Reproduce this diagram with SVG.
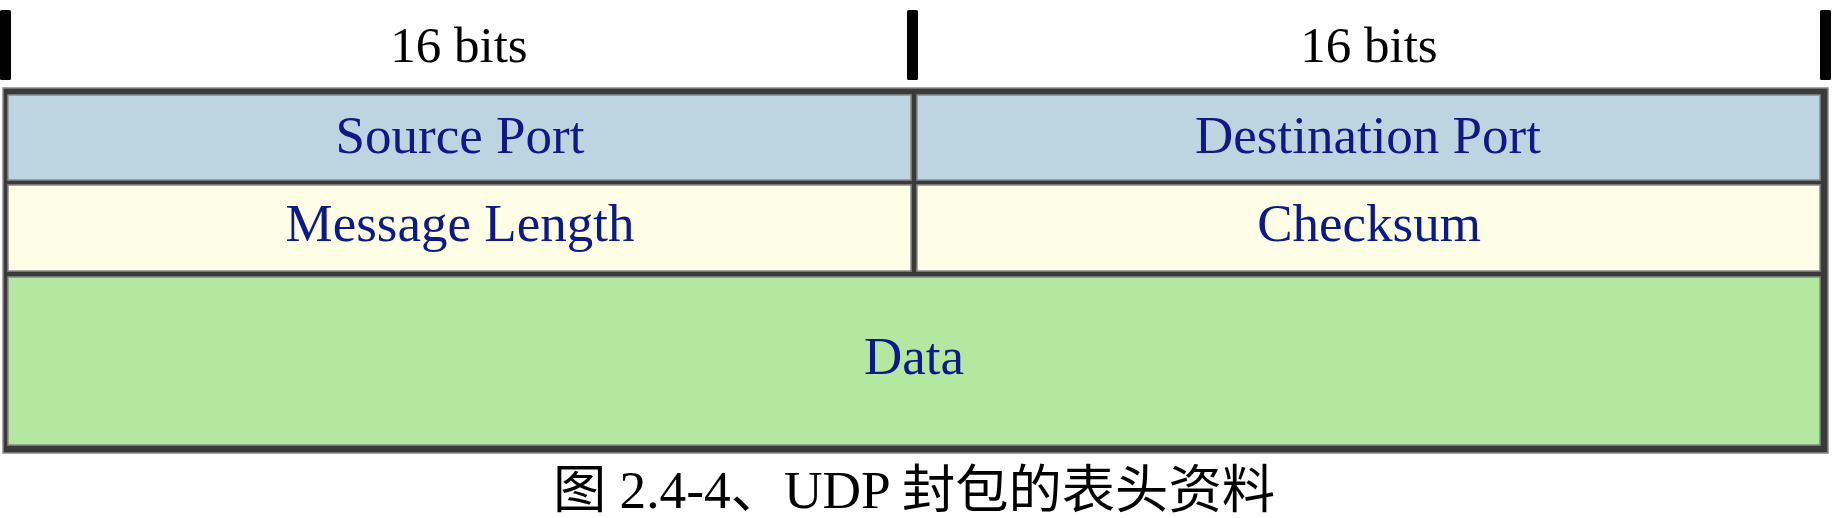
<svg xmlns="http://www.w3.org/2000/svg" width="1842" height="518" viewBox="0 0 1842 518">
<style>
.tick{fill:#000}
.hdr{font-family:"Liberation Serif","Times New Roman",serif;font-size:51px;fill:#000;text-anchor:middle}
.lbl{font-family:"Liberation Serif","Times New Roman",serif;font-size:53px;fill:#0b1a88;text-anchor:middle}
.cap{font-family:"Liberation Serif","Noto Sans CJK SC",serif;font-size:52px;fill:#000;text-anchor:middle}
.cell{stroke:#8a8a8a;stroke-width:1.5}
.blue{fill:#bcd5e1}
.yellow{fill:#fefde5}
.green{fill:#b4e7a0}
</style>
<rect width="1842" height="518" fill="#fff"/>
<g id="ruler">
<rect class="tick" x="0" y="10" width="11" height="70" rx="1.5"/>
<rect class="tick" x="907" y="10" width="11" height="70" rx="1.5"/>
<rect class="tick" x="1820" y="10" width="11" height="70" rx="1.5"/>
<text class="hdr" x="459" y="62">16 bits</text>
<text class="hdr" x="1369" y="62">16 bits</text>
</g>
<g id="frame">
<rect x="3" y="88" width="1825" height="365" fill="#3a3a3a" stroke="#8a8a8a" stroke-width="1.5"/>
</g>
<g id="source-port">
<rect class="cell blue" x="8" y="95" width="903" height="85"/>
<text class="lbl" x="460" y="153">Source Port</text>
</g>
<g id="destination-port">
<rect class="cell blue" x="917" y="95" width="903" height="85"/>
<text class="lbl" x="1368" y="153">Destination Port</text>
</g>
<g id="message-length">
<rect class="cell yellow" x="8" y="185" width="903" height="86"/>
<text class="lbl" x="460" y="241">Message Length</text>
</g>
<g id="checksum">
<rect class="cell yellow" x="917" y="185" width="903" height="86"/>
<text class="lbl" x="1369" y="241">Checksum</text>
</g>
<g id="data">
<rect class="cell green" x="8" y="277" width="1812" height="168"/>
<text class="lbl" x="914" y="374">Data</text>
</g>
<g id="connectors"></g>
<g id="caption">
<text class="cap" x="914" y="508" textLength="722" lengthAdjust="spacingAndGlyphs">图 2.4-4、UDP 封包的表头资料</text>
</g>
</svg>
